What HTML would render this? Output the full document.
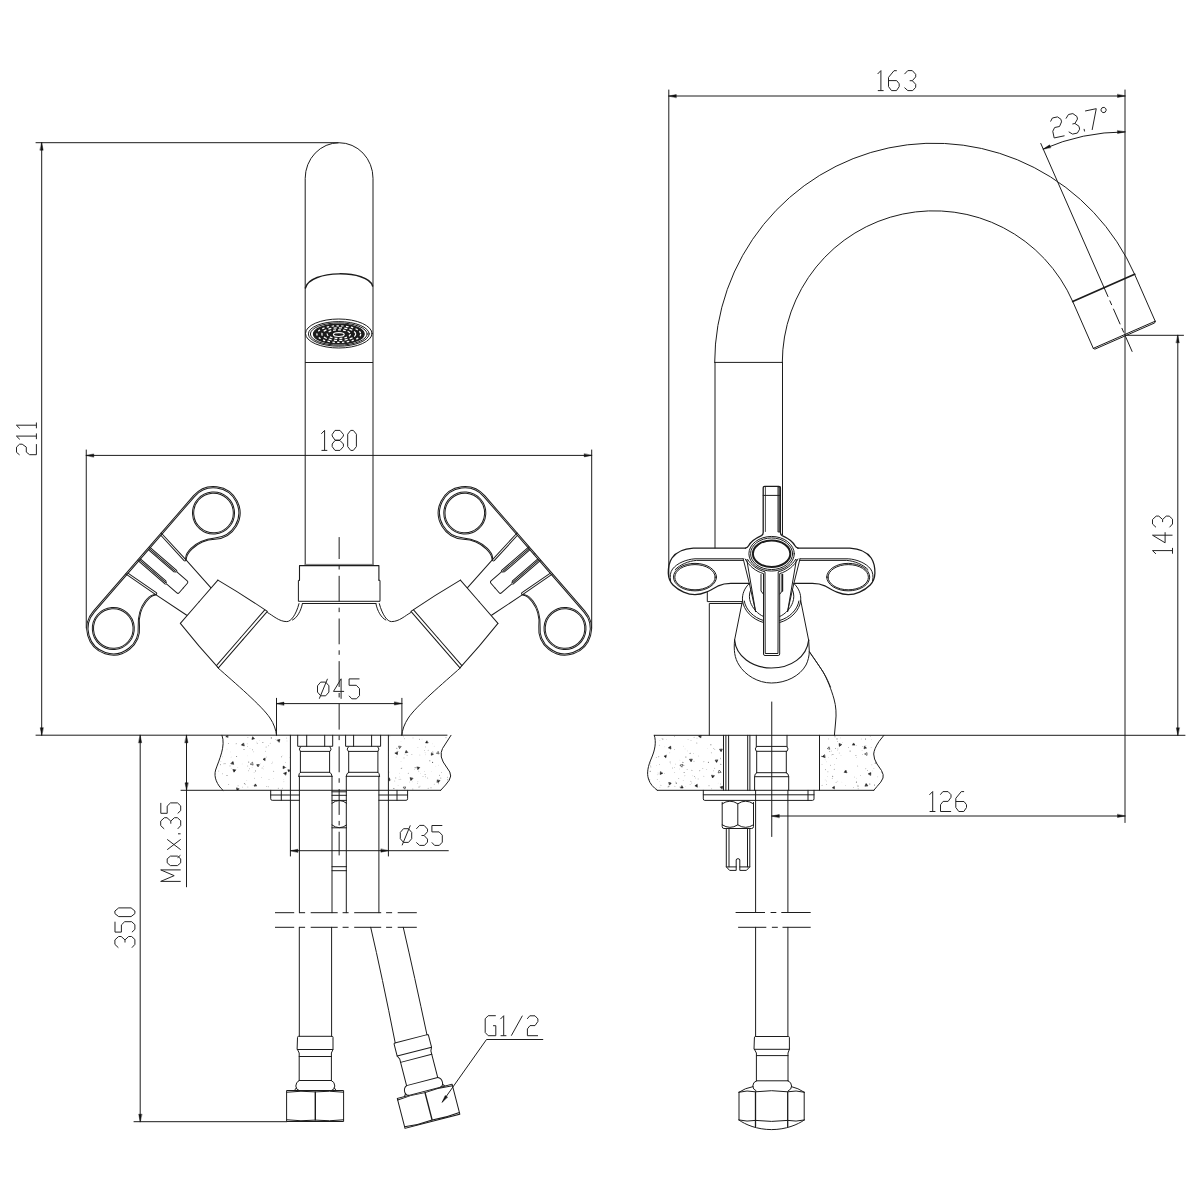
<!DOCTYPE html>
<html lang="en"><head><meta charset="utf-8"><title>Two-handle basin mixer - dimensional drawing</title>
<style>
html,body{margin:0;padding:0;background:#fff;font-family:"Liberation Sans",sans-serif;}
body{width:1200px;height:1200px;overflow:hidden;}
svg{display:block}
</style></head>
<body><svg width="1200" height="1200" viewBox="0 0 1200 1200" fill="none" stroke="#1c1c1c" stroke-linecap="round" stroke-linejoin="round" role="img" aria-label="Dimensional drawing of a two-handle basin mixer: front view (211, 180, ø45, ø35, Max.35, 350, G1/2) and side view (163, 23.7°, 143, 126)">
<desc>Front view dimensions: 211, 180, ø45, ø35, Max.35, 350, G1/2. Side view dimensions: 163, 23.7°, 143, 126.</desc>
<rect x="0" y="0" width="1200" height="1200" fill="#fff" stroke="none"/>
<path d="M36.00,142.70L338.00,142.70" stroke-width="1.0" />
<path d="M41.70,142.70L41.70,735.20" stroke-width="1.0" />
<path d="M41.70,142.70L43.20,150.20L40.20,150.20Z" fill="#111" stroke="#111" stroke-width="0.4"/>
<path d="M41.70,735.20L40.20,727.70L43.20,727.70Z" fill="#111" stroke="#111" stroke-width="0.4"/>
<g transform="translate(36.40,454.90) rotate(-90) scale(1.0)" stroke="#242424" stroke-width="1.00" stroke-linejoin="miter" stroke-linecap="butt">
<path transform="translate(0.00,0) scale(1.0,1.0) translate(0,-20)" vector-effect="non-scaling-stroke" d="M0,3.2L2.6,0.1L7.8,0.1L10.7,3.2L10.7,5.8L7.8,9.9L2.8,9.9L0.2,13.2L0.2,20L10.8,20"/>
<path transform="translate(15.50,0) scale(1.0,1.0) translate(0,-20)" vector-effect="non-scaling-stroke" d="M0,3.4L3.3,0L3.3,20M0.2,20L6.0,20"/>
<path transform="translate(26.40,0) scale(1.0,1.0) translate(0,-20)" vector-effect="non-scaling-stroke" d="M0,3.4L3.3,0L3.3,20M0.2,20L6.0,20"/>
</g>
<path d="M36.00,735.20L447.00,735.20" stroke-width="1.0" />
<path d="M86.25,450.00L86.25,628.00" stroke-width="1.0" />
<path d="M591.70,450.00L591.70,628.00" stroke-width="1.0" />
<path d="M86.25,455.40L591.70,455.40" stroke-width="1.0" />
<path d="M86.25,455.40L93.75,453.90L93.75,456.90Z" fill="#111" stroke="#111" stroke-width="0.4"/>
<path d="M591.70,455.40L584.20,456.90L584.20,453.90Z" fill="#111" stroke="#111" stroke-width="0.4"/>
<g transform="translate(321.30,450.40) rotate(0) scale(1.0)" stroke="#242424" stroke-width="1.00" stroke-linejoin="miter" stroke-linecap="butt">
<path transform="translate(0.00,0) scale(1.0,1.0) translate(0,-20)" vector-effect="non-scaling-stroke" d="M0,3.4L3.3,0L3.3,20M0.2,20L6.0,20"/>
<path transform="translate(10.90,0) scale(1.0,1.0) translate(0,-20)" vector-effect="non-scaling-stroke" d="M2.8,0L7.8,0L11.2,4L11.2,5.6L7.8,9.7L2.8,9.7L0,5.6L0,4ZM2.8,10.1L7.8,10.1L11.2,13.6L11.2,16.2L7.8,20L2.8,20L0,16.2L0,13.6Z"/>
<path transform="translate(26.40,0) scale(1.0,1.0) translate(0,-20)" vector-effect="non-scaling-stroke" d="M3,0L5.6,0L8.7,3.8L8.7,16.2L5.6,20L3,20L0,16.2L0,3.8Z"/>
</g>
<path d="M305.2,565 L305.2,178.3 A33.9,35.6 0 0 1 373.0,178.3 L373.0,565" stroke-width="1.0" />
<path d="M305.4,288 C310,269.5 368,269.5 372.6,286" stroke-width="1.5" />
<path d="M305.50,362.50L372.60,362.50" stroke-width="1.0" />
<ellipse cx="338.80" cy="333.50" rx="33.30" ry="14.50" stroke-width="1.0" />
<ellipse cx="338.80" cy="333.90" rx="30.40" ry="12.30" stroke-width="1.0" />
<ellipse cx="338.80" cy="334.00" rx="28.40" ry="11.10" stroke-width="1.0" />
<ellipse cx="338.80" cy="334.00" rx="25.40" ry="9.90" stroke-width="1.2" fill="#1c1c1c"/>
<ellipse cx="338.80" cy="334.10" rx="21.90" ry="8.30" stroke-width="1.25" stroke="#fff" stroke-dasharray="2.4 2.4" stroke-linecap="butt"/>
<ellipse cx="338.80" cy="334.10" rx="16.90" ry="6.30" stroke-width="1.25" stroke="#fff" stroke-dasharray="3.0 2.2" stroke-linecap="butt"/>
<ellipse cx="338.80" cy="334.10" rx="11.60" ry="4.30" stroke-width="1.2" stroke="#fff" stroke-dasharray="2.8 2.0" stroke-linecap="butt"/>
<ellipse cx="338.80" cy="334.60" rx="5.40" ry="1.90" stroke-width="1.2" stroke="#fff"/>
<path d="M339.15,537.10L339.15,855.40" stroke-width="1.0" stroke-dasharray="25.8 6 4.5 6.35" stroke-dashoffset="3.9" stroke-linecap="butt"/>
<path d="M299.5,580.2 L299.5,565.6 L378.9,565.6 L378.9,580.2" stroke-width="1.1" />
<path d="M305.20,564.40L373.00,564.40" stroke-width="1.0" stroke="#777"/>
<path d="M299.5,580.2 L298.4,580.4 L298.4,601.3 L380.0,601.3 L380.0,580.4 L378.9,580.2" stroke-width="1.0" />
<path d="M302.50,603.50L375.90,603.50" stroke-width="1.0" />
<g transform="matrix(0.6553,-0.7554,0.7554,0.6553,163.4,570.75)">
<g transform="scale(1,1)">
<circle cx="76.45" cy="0" r="21.0"/><circle cx="76.45" cy="0" r="19.8"/>
<path d="M0,-26.40 L76.45,-26.40 A26.40,26.40 0 1 1 57.60,18.30 C52.00,12.30 44.00,8.00 35.00,7.40 S26.5,8.60 23.10,9.90" stroke-width="1.0" />
<path d="M0,-25.10 L76.45,-25.10 A25.10,25.10 0 1 1 58.53,17.40 C51.61,11.00 44.00,6.70 35.00,6.10 S26.5,7.30 23.36,9.12" stroke-width="1.0" />
<path d="M27.1,-26.4 L23.1,9.9 L18.3,46.8" stroke-width="1.0" />
<path d="M25.1,-25.2 L21.2,9.0 Q21.4,10.6 23.1,9.9" stroke-width="1.0" />
<path d="M8.9,-26.2 L8.9,9.8 L7.9,11.3 L7.9,24.7 Q7.9,26.3 6.3,26.3 L0,26.3" stroke-width="1.0" />
<path d="M7.45,-25.2 L7.45,9.4" stroke-width="1.0" />
<path d="M6.0,-25.2 L6.0,8.4 L7.45,10.4" stroke-width="1.0" />
<path d="M28.65,47.3 L0,47.3" stroke-width="1.0" />
<path d="M28.65,47.3 Q34,76 37.4,105.2 L0,105.2" stroke-width="1.0" />
<path d="M36.9,102.2 L0,102.2" stroke-width="1.0" />
</g>
<g transform="scale(-1,1)">
<circle cx="76.45" cy="0" r="21.0"/><circle cx="76.45" cy="0" r="19.8"/>
<path d="M0,-26.40 L76.45,-26.40 A26.40,26.40 0 1 1 57.60,18.30 C52.00,12.30 44.00,8.00 35.00,7.40 S26.5,8.60 23.10,9.90" stroke-width="1.0" />
<path d="M0,-25.10 L76.45,-25.10 A25.10,25.10 0 1 1 58.53,17.40 C51.61,11.00 44.00,6.70 35.00,6.10 S26.5,7.30 23.36,9.12" stroke-width="1.0" />
<path d="M27.1,-26.4 L23.1,9.9 L18.3,46.8" stroke-width="1.0" />
<path d="M25.1,-25.2 L21.2,9.0 Q21.4,10.6 23.1,9.9" stroke-width="1.0" />
<path d="M8.9,-26.2 L8.9,9.8 L7.9,11.3 L7.9,24.7 Q7.9,26.3 6.3,26.3 L0,26.3" stroke-width="1.0" />
<path d="M7.45,-25.2 L7.45,9.4" stroke-width="1.0" />
<path d="M6.0,-25.2 L6.0,8.4 L7.45,10.4" stroke-width="1.0" />
<path d="M28.65,47.3 L0,47.3" stroke-width="1.0" />
<path d="M28.65,47.3 Q34,76 37.4,105.2 L0,105.2" stroke-width="1.0" />
<path d="M36.9,102.2 L0,102.2" stroke-width="1.0" />
</g>
</g>
<path d="M267.6,612.6 C273,615.5 279,621.6 286.8,621.6 C291,621.6 296,615 299,603.6" stroke-width="1.0" />
<path d="M302.4,603.6 C301,611 297,618 292.5,620" stroke-width="1.0" />
<path d="M217.6,667.6 C235,683 262,706 270,718 C274,724 276,730 276.5,735.2" stroke-width="1.0" />
<g transform="translate(678.30,0) scale(-1,1)">
<g transform="matrix(0.6553,-0.7554,0.7554,0.6553,163.4,570.75)">
<g transform="scale(1,1)">
<circle cx="76.45" cy="0" r="21.0"/><circle cx="76.45" cy="0" r="19.8"/>
<path d="M0,-26.40 L76.45,-26.40 A26.40,26.40 0 1 1 57.60,18.30 C52.00,12.30 44.00,8.00 35.00,7.40 S26.5,8.60 23.10,9.90" stroke-width="1.0" />
<path d="M0,-25.10 L76.45,-25.10 A25.10,25.10 0 1 1 58.53,17.40 C51.61,11.00 44.00,6.70 35.00,6.10 S26.5,7.30 23.36,9.12" stroke-width="1.0" />
<path d="M27.1,-26.4 L23.1,9.9 L18.3,46.8" stroke-width="1.0" />
<path d="M25.1,-25.2 L21.2,9.0 Q21.4,10.6 23.1,9.9" stroke-width="1.0" />
<path d="M8.9,-26.2 L8.9,9.8 L7.9,11.3 L7.9,24.7 Q7.9,26.3 6.3,26.3 L0,26.3" stroke-width="1.0" />
<path d="M7.45,-25.2 L7.45,9.4" stroke-width="1.0" />
<path d="M6.0,-25.2 L6.0,8.4 L7.45,10.4" stroke-width="1.0" />
<path d="M28.65,47.3 L0,47.3" stroke-width="1.0" />
<path d="M28.65,47.3 Q34,76 37.4,105.2 L0,105.2" stroke-width="1.0" />
<path d="M36.9,102.2 L0,102.2" stroke-width="1.0" />
</g>
<g transform="scale(-1,1)">
<circle cx="76.45" cy="0" r="21.0"/><circle cx="76.45" cy="0" r="19.8"/>
<path d="M0,-26.40 L76.45,-26.40 A26.40,26.40 0 1 1 57.60,18.30 C52.00,12.30 44.00,8.00 35.00,7.40 S26.5,8.60 23.10,9.90" stroke-width="1.0" />
<path d="M0,-25.10 L76.45,-25.10 A25.10,25.10 0 1 1 58.53,17.40 C51.61,11.00 44.00,6.70 35.00,6.10 S26.5,7.30 23.36,9.12" stroke-width="1.0" />
<path d="M27.1,-26.4 L23.1,9.9 L18.3,46.8" stroke-width="1.0" />
<path d="M25.1,-25.2 L21.2,9.0 Q21.4,10.6 23.1,9.9" stroke-width="1.0" />
<path d="M8.9,-26.2 L8.9,9.8 L7.9,11.3 L7.9,24.7 Q7.9,26.3 6.3,26.3 L0,26.3" stroke-width="1.0" />
<path d="M7.45,-25.2 L7.45,9.4" stroke-width="1.0" />
<path d="M6.0,-25.2 L6.0,8.4 L7.45,10.4" stroke-width="1.0" />
<path d="M28.65,47.3 L0,47.3" stroke-width="1.0" />
<path d="M28.65,47.3 Q34,76 37.4,105.2 L0,105.2" stroke-width="1.0" />
<path d="M36.9,102.2 L0,102.2" stroke-width="1.0" />
</g>
</g>
<path d="M267.6,612.6 C273,615.5 279,621.6 286.8,621.6 C291,621.6 296,615 299,603.6" stroke-width="1.0" />
<path d="M302.4,603.6 C301,611 297,618 292.5,620" stroke-width="1.0" />
<path d="M217.6,667.6 C235,683 262,706 270,718 C274,724 276,730 276.5,735.2" stroke-width="1.0" />
</g>
<path d="M276.50,698.30L276.50,735.20" stroke-width="1.0" />
<path d="M401.90,698.30L401.90,735.20" stroke-width="1.0" />
<path d="M276.50,703.60L401.90,703.60" stroke-width="1.0" />
<path d="M276.50,703.60L284.00,702.10L284.00,705.10Z" fill="#111" stroke="#111" stroke-width="0.4"/>
<path d="M401.90,703.60L394.40,705.10L394.40,702.10Z" fill="#111" stroke="#111" stroke-width="0.4"/>
<g transform="translate(317.50,698.80) rotate(0) scale(1.0)" stroke="#242424" stroke-width="1.00" stroke-linejoin="miter" stroke-linecap="butt">
<path transform="translate(0.00,0) scale(1.0,1.0) translate(0,-20)" vector-effect="non-scaling-stroke" d="M3.2,3.3L8.2,3.3L11.4,7L11.4,13.3L8.2,17L3.2,17L0,13.3L0,7ZM1.8,19.9L10,0"/>
<path transform="translate(15.80,0) scale(1.0,1.0) translate(0,-20)" vector-effect="non-scaling-stroke" d="M7.8,0L0.2,12.6L10.8,12.6M7.8,0L7.8,20"/>
<path transform="translate(31.30,0) scale(1.0,1.0) translate(0,-20)" vector-effect="non-scaling-stroke" d="M10.7,0.1L0.3,0.1L0.3,6.5L7.5,6.5L10.7,9.8L10.7,16.8L7.7,20L3,20L0.2,17"/>
</g>
<clipPath id="cl11"><path d="M222,735.3 C226,746 219,760 215.6,770 C213.5,777 217,785 223,790.3 L290.4,790.3 L290.4,735.3 Z"/></clipPath>
<g clip-path="url(#cl11)" stroke="none">
<circle cx="247.7" cy="766.0" r="0.5" fill="#aaa"/>
<circle cx="252.1" cy="767.4" r="0.4" fill="#bbb"/>
<circle cx="249.6" cy="768.8" r="0.4" fill="#555"/>
<circle cx="247.3" cy="743.8" r="0.55" fill="#ccc"/>
<circle cx="262.1" cy="767.9" r="0.5" fill="#aaa"/>
<circle cx="263.7" cy="768.9" r="0.4" fill="#bbb"/>
<circle cx="213.2" cy="764.3" r="0.35" fill="#555"/>
<circle cx="227.0" cy="749.1" r="0.35" fill="#aaa"/>
<circle cx="237.8" cy="767.6" r="0.4" fill="#bbb"/>
<circle cx="230.5" cy="751.9" r="0.35" fill="#ccc"/>
<circle cx="218.7" cy="771.0" r="0.5" fill="#bbb"/>
<circle cx="290.7" cy="780.8" r="0.45" fill="#999"/>
<circle cx="271.9" cy="763.5" r="0.35" fill="#555"/>
<circle cx="256.5" cy="742.0" r="0.35" fill="#999"/>
<circle cx="242.5" cy="787.1" r="0.35" fill="#777"/>
<circle cx="228.6" cy="784.5" r="0.5" fill="#aaa"/>
<circle cx="289.4" cy="757.4" r="0.35" fill="#bbb"/>
<circle cx="261.7" cy="777.6" r="0.45" fill="#999"/>
<circle cx="218.9" cy="753.9" r="0.5" fill="#555"/>
<circle cx="222.6" cy="773.8" r="0.35" fill="#555"/>
<circle cx="248.7" cy="762.1" r="0.55" fill="#777"/>
<circle cx="247.3" cy="746.4" r="0.4" fill="#aaa"/>
<circle cx="262.9" cy="742.5" r="0.5" fill="#777"/>
<circle cx="212.0" cy="782.1" r="0.55" fill="#999"/>
<circle cx="290.8" cy="737.3" r="0.4" fill="#aaa"/>
<circle cx="290.7" cy="768.2" r="0.55" fill="#555"/>
<circle cx="215.3" cy="744.1" r="0.5" fill="#999"/>
<circle cx="212.8" cy="768.6" r="0.45" fill="#aaa"/>
<circle cx="217.8" cy="741.1" r="0.55" fill="#ccc"/>
<circle cx="231.2" cy="768.2" r="0.45" fill="#bbb"/>
<circle cx="247.8" cy="787.1" r="0.5" fill="#bbb"/>
<circle cx="222.7" cy="756.8" r="0.4" fill="#999"/>
<circle cx="283.8" cy="779.6" r="0.4" fill="#ccc"/>
<circle cx="227.0" cy="775.5" r="0.55" fill="#777"/>
<circle cx="266.3" cy="756.9" r="0.5" fill="#bbb"/>
<circle cx="218.2" cy="738.8" r="0.35" fill="#555"/>
<circle cx="252.5" cy="749.8" r="0.5" fill="#999"/>
<circle cx="245.2" cy="784.3" r="0.5" fill="#999"/>
<circle cx="253.1" cy="785.5" r="0.35" fill="#777"/>
<circle cx="230.0" cy="765.9" r="0.55" fill="#bbb"/>
<circle cx="217.9" cy="747.6" r="0.4" fill="#ccc"/>
<circle cx="213.3" cy="750.6" r="0.5" fill="#777"/>
<circle cx="216.8" cy="745.6" r="0.45" fill="#bbb"/>
<circle cx="257.2" cy="743.3" r="0.45" fill="#777"/>
<circle cx="282.4" cy="788.3" r="0.55" fill="#bbb"/>
<circle cx="286.8" cy="767.6" r="0.35" fill="#aaa"/>
<circle cx="283.9" cy="773.5" r="0.35" fill="#555"/>
<circle cx="259.3" cy="740.3" r="0.35" fill="#ccc"/>
<circle cx="236.6" cy="743.5" r="0.35" fill="#555"/>
<circle cx="247.8" cy="755.8" r="0.35" fill="#ccc"/>
<circle cx="270.2" cy="743.2" r="0.45" fill="#999"/>
<circle cx="218.7" cy="761.4" r="0.35" fill="#aaa"/>
<circle cx="286.6" cy="737.9" r="0.5" fill="#bbb"/>
<circle cx="213.1" cy="771.4" r="0.5" fill="#bbb"/>
<circle cx="213.0" cy="740.1" r="0.35" fill="#ccc"/>
<circle cx="221.1" cy="749.9" r="0.5" fill="#ccc"/>
<circle cx="238.1" cy="785.8" r="0.55" fill="#aaa"/>
<circle cx="246.8" cy="780.7" r="0.35" fill="#bbb"/>
<circle cx="271.3" cy="737.9" r="0.55" fill="#555"/>
<circle cx="250.0" cy="748.5" r="0.35" fill="#aaa"/>
<circle cx="273.6" cy="771.3" r="0.5" fill="#999"/>
<circle cx="282.8" cy="755.8" r="0.4" fill="#ccc"/>
<circle cx="260.3" cy="763.8" r="0.45" fill="#ccc"/>
<circle cx="285.5" cy="762.7" r="0.4" fill="#999"/>
<circle cx="244.0" cy="749.6" r="0.5" fill="#777"/>
<circle cx="281.5" cy="756.7" r="0.55" fill="#999"/>
<circle cx="228.6" cy="743.4" r="0.45" fill="#555"/>
<circle cx="268.2" cy="786.7" r="0.45" fill="#777"/>
<circle cx="220.9" cy="761.3" r="0.4" fill="#aaa"/>
<circle cx="242.2" cy="763.9" r="0.45" fill="#ccc"/>
<circle cx="278.3" cy="788.3" r="0.5" fill="#999"/>
<circle cx="217.9" cy="738.0" r="0.55" fill="#555"/>
<circle cx="265.6" cy="751.2" r="0.45" fill="#999"/>
<circle cx="263.3" cy="766.2" r="0.4" fill="#aaa"/>
<circle cx="247.9" cy="737.6" r="0.45" fill="#777"/>
<circle cx="273.6" cy="778.5" r="0.35" fill="#aaa"/>
<circle cx="220.6" cy="764.7" r="0.45" fill="#555"/>
<circle cx="266.1" cy="746.9" r="0.5" fill="#999"/>
<circle cx="226.1" cy="736.9" r="0.5" fill="#bbb"/>
<circle cx="268.4" cy="745.8" r="0.45" fill="#999"/>
<circle cx="254.6" cy="786.5" r="0.55" fill="#bbb"/>
<circle cx="290.7" cy="744.7" r="0.4" fill="#555"/>
<circle cx="244.4" cy="783.6" r="0.5" fill="#777"/>
<circle cx="247.6" cy="746.7" r="0.35" fill="#aaa"/>
<circle cx="255.5" cy="770.9" r="0.55" fill="#999"/>
<circle cx="248.6" cy="770.8" r="0.4" fill="#555"/>
<circle cx="269.0" cy="779.7" r="0.35" fill="#777"/>
<circle cx="231.1" cy="757.0" r="0.35" fill="#999"/>
<circle cx="254.4" cy="778.2" r="0.45" fill="#999"/>
<circle cx="283.9" cy="781.7" r="0.45" fill="#bbb"/>
<circle cx="218.5" cy="759.7" r="0.55" fill="#aaa"/>
<circle cx="272.7" cy="762.1" r="0.35" fill="#777"/>
<circle cx="275.9" cy="739.7" r="0.35" fill="#777"/>
<circle cx="254.1" cy="772.7" r="0.4" fill="#aaa"/>
<circle cx="223.7" cy="763.7" r="0.55" fill="#ccc"/>
<circle cx="266.5" cy="786.4" r="0.5" fill="#bbb"/>
<circle cx="287.0" cy="740.9" r="0.4" fill="#aaa"/>
<circle cx="253.6" cy="751.7" r="0.55" fill="#ccc"/>
<circle cx="225.0" cy="763.6" r="0.55" fill="#999"/>
<circle cx="236.6" cy="756.5" r="0.55" fill="#777"/>
<circle cx="236.1" cy="743.8" r="0.55" fill="#bbb"/>
<circle cx="233.6" cy="762.7" r="0.5" fill="#bbb"/>
<circle cx="221.0" cy="736.6" r="0.5" fill="#555"/>
<polygon points="254.2,738.8 251.9,739.4 252.6,737.1" fill="#1a1a1a" stroke="#1a1a1a" stroke-width="0.6"/>
<polygon points="277.3,740.1 279.9,739.4 279.2,742.0" fill="#1a1a1a" stroke="#1a1a1a" stroke-width="0.6"/>
<polygon points="244.0,745.8 241.4,745.1 243.3,743.2" fill="#1a1a1a" stroke="#1a1a1a" stroke-width="0.6"/>
<polygon points="264.8,760.4 263.0,759.3 264.8,758.2" fill="#1a1a1a" stroke="#1a1a1a" stroke-width="0.6"/>
<polygon points="231.0,763.4 232.9,761.5 233.6,764.1" fill="#1a1a1a" stroke="#1a1a1a" stroke-width="0.6"/>
<polygon points="252.6,762.6 253.1,765.1 250.6,764.3" fill="none" stroke="#1a1a1a" stroke-width="0.6"/>
<polygon points="257.9,766.6 256.7,764.7 259.0,764.6" fill="#1a1a1a" stroke="#1a1a1a" stroke-width="0.6"/>
<polygon points="283.1,768.4 283.2,766.0 285.2,767.3" fill="#1a1a1a" stroke="#1a1a1a" stroke-width="0.6"/>
<polygon points="235.6,770.1 234.0,772.2 233.0,769.8" fill="#1a1a1a" stroke="#1a1a1a" stroke-width="0.6"/>
<polygon points="283.9,773.2 286.4,772.2 285.9,774.8" fill="#1a1a1a" stroke="#1a1a1a" stroke-width="0.6"/>
<polygon points="254.3,785.7 255.4,783.9 256.5,785.7" fill="#1a1a1a" stroke="#1a1a1a" stroke-width="0.6"/>
<polygon points="288.7,771.7 287.8,769.8 289.9,770.0" fill="#1a1a1a" stroke="#1a1a1a" stroke-width="0.6"/>
<polygon points="238.9,789.1 237.0,790.6 236.6,788.2" fill="#1a1a1a" stroke="#1a1a1a" stroke-width="0.6"/>
<polygon points="227.7,737.3 225.8,736.4 227.5,735.2" fill="#1a1a1a" stroke="#1a1a1a" stroke-width="0.6"/>
</g>
<path d="M222,735.3 C226,746 219,760 215.6,770 C213.5,777 217,785 223,790.3" stroke-width="1.0" />
<clipPath id="cl12"><path d="M451,735.3 L442.5,748.5 Q440.6,752 441.3,757 Q442.5,762 446.5,767 Q451,772.5 450.7,776 Q450.3,780 445.5,785 L440.7,790.3 L388.4,790.3 L388.4,735.3 Z"/></clipPath>
<g clip-path="url(#cl12)" stroke="none">
<circle cx="418.8" cy="771.1" r="0.45" fill="#777"/>
<circle cx="412.8" cy="789.1" r="0.5" fill="#999"/>
<circle cx="429.8" cy="760.7" r="0.55" fill="#777"/>
<circle cx="424.3" cy="771.4" r="0.4" fill="#aaa"/>
<circle cx="411.9" cy="754.3" r="0.4" fill="#555"/>
<circle cx="425.5" cy="746.9" r="0.55" fill="#ccc"/>
<circle cx="441.3" cy="772.4" r="0.35" fill="#555"/>
<circle cx="447.7" cy="779.7" r="0.55" fill="#777"/>
<circle cx="393.9" cy="788.6" r="0.5" fill="#555"/>
<circle cx="431.0" cy="787.8" r="0.55" fill="#999"/>
<circle cx="445.3" cy="765.9" r="0.35" fill="#bbb"/>
<circle cx="399.1" cy="779.5" r="0.5" fill="#bbb"/>
<circle cx="415.2" cy="767.9" r="0.5" fill="#bbb"/>
<circle cx="413.0" cy="737.9" r="0.35" fill="#777"/>
<circle cx="451.5" cy="771.5" r="0.45" fill="#999"/>
<circle cx="444.3" cy="756.7" r="0.45" fill="#555"/>
<circle cx="404.4" cy="754.1" r="0.45" fill="#bbb"/>
<circle cx="425.3" cy="776.8" r="0.4" fill="#555"/>
<circle cx="412.8" cy="781.8" r="0.35" fill="#bbb"/>
<circle cx="389.7" cy="772.1" r="0.35" fill="#aaa"/>
<circle cx="401.3" cy="768.5" r="0.55" fill="#777"/>
<circle cx="399.6" cy="773.2" r="0.35" fill="#aaa"/>
<circle cx="406.0" cy="754.5" r="0.35" fill="#bbb"/>
<circle cx="417.9" cy="747.4" r="0.45" fill="#aaa"/>
<circle cx="419.0" cy="787.1" r="0.5" fill="#777"/>
<circle cx="450.1" cy="745.2" r="0.55" fill="#999"/>
<circle cx="399.8" cy="776.9" r="0.4" fill="#bbb"/>
<circle cx="388.4" cy="750.5" r="0.45" fill="#777"/>
<circle cx="403.7" cy="736.8" r="0.35" fill="#777"/>
<circle cx="428.2" cy="788.4" r="0.55" fill="#bbb"/>
<circle cx="398.1" cy="785.5" r="0.45" fill="#ccc"/>
<circle cx="395.7" cy="777.9" r="0.55" fill="#aaa"/>
<circle cx="419.8" cy="755.0" r="0.5" fill="#ccc"/>
<circle cx="398.5" cy="751.7" r="0.35" fill="#999"/>
<circle cx="409.5" cy="782.0" r="0.5" fill="#ccc"/>
<circle cx="439.5" cy="775.2" r="0.55" fill="#999"/>
<circle cx="389.9" cy="736.5" r="0.35" fill="#777"/>
<circle cx="424.3" cy="750.4" r="0.4" fill="#777"/>
<circle cx="401.0" cy="761.3" r="0.35" fill="#bbb"/>
<circle cx="425.1" cy="774.4" r="0.45" fill="#555"/>
<circle cx="415.1" cy="767.5" r="0.5" fill="#777"/>
<circle cx="425.7" cy="754.7" r="0.45" fill="#ccc"/>
<circle cx="435.8" cy="766.2" r="0.35" fill="#ccc"/>
<circle cx="434.2" cy="784.2" r="0.35" fill="#555"/>
<circle cx="447.2" cy="764.7" r="0.5" fill="#555"/>
<circle cx="434.2" cy="746.3" r="0.45" fill="#ccc"/>
<circle cx="432.6" cy="762.4" r="0.55" fill="#555"/>
<circle cx="401.8" cy="768.0" r="0.5" fill="#bbb"/>
<circle cx="404.0" cy="757.9" r="0.45" fill="#555"/>
<circle cx="432.5" cy="743.8" r="0.35" fill="#ccc"/>
<circle cx="408.3" cy="773.2" r="0.5" fill="#999"/>
<circle cx="399.4" cy="747.4" r="0.55" fill="#aaa"/>
<circle cx="419.5" cy="739.3" r="0.55" fill="#999"/>
<circle cx="417.7" cy="783.2" r="0.35" fill="#777"/>
<circle cx="388.5" cy="755.4" r="0.45" fill="#777"/>
<circle cx="432.8" cy="752.0" r="0.55" fill="#777"/>
<circle cx="420.6" cy="773.3" r="0.4" fill="#bbb"/>
<circle cx="418.2" cy="768.4" r="0.4" fill="#aaa"/>
<circle cx="417.9" cy="781.6" r="0.4" fill="#aaa"/>
<circle cx="423.0" cy="776.6" r="0.5" fill="#bbb"/>
<circle cx="431.8" cy="771.5" r="0.35" fill="#bbb"/>
<circle cx="425.1" cy="752.8" r="0.35" fill="#999"/>
<circle cx="438.4" cy="783.8" r="0.45" fill="#777"/>
<circle cx="396.8" cy="748.3" r="0.55" fill="#777"/>
<circle cx="404.4" cy="738.7" r="0.45" fill="#999"/>
<circle cx="414.6" cy="769.6" r="0.45" fill="#aaa"/>
<circle cx="440.8" cy="778.1" r="0.55" fill="#999"/>
<circle cx="397.6" cy="750.0" r="0.35" fill="#ccc"/>
<circle cx="427.6" cy="777.9" r="0.5" fill="#aaa"/>
<circle cx="428.2" cy="750.2" r="0.5" fill="#aaa"/>
<circle cx="420.0" cy="786.1" r="0.4" fill="#777"/>
<circle cx="439.3" cy="780.6" r="0.35" fill="#999"/>
<circle cx="422.0" cy="739.1" r="0.45" fill="#ccc"/>
<circle cx="447.5" cy="777.2" r="0.45" fill="#777"/>
<circle cx="436.7" cy="781.9" r="0.55" fill="#999"/>
<circle cx="390.8" cy="779.2" r="0.4" fill="#777"/>
<circle cx="400.8" cy="779.2" r="0.4" fill="#777"/>
<circle cx="438.3" cy="765.2" r="0.35" fill="#bbb"/>
<circle cx="447.2" cy="755.6" r="0.5" fill="#bbb"/>
<circle cx="401.0" cy="741.5" r="0.35" fill="#ccc"/>
<circle cx="396.2" cy="757.1" r="0.5" fill="#ccc"/>
<circle cx="407.1" cy="755.2" r="0.5" fill="#aaa"/>
<circle cx="446.0" cy="737.8" r="0.45" fill="#555"/>
<circle cx="448.1" cy="762.4" r="0.45" fill="#ccc"/>
<circle cx="394.7" cy="781.0" r="0.5" fill="#bbb"/>
<polygon points="399.0,746.2 401.2,746.5 399.8,748.3" fill="none" stroke="#1a1a1a" stroke-width="0.6"/>
<polygon points="397.5,752.1 397.4,754.6 395.2,753.3" fill="#1a1a1a" stroke="#1a1a1a" stroke-width="0.6"/>
<polygon points="407.5,752.5 405.3,752.8 406.1,750.8" fill="#1a1a1a" stroke="#1a1a1a" stroke-width="0.6"/>
<polygon points="427.8,742.9 425.6,742.9 426.7,741.1" fill="#1a1a1a" stroke="#1a1a1a" stroke-width="0.6"/>
<polygon points="433.2,754.4 431.3,755.3 431.4,753.2" fill="#1a1a1a" stroke="#1a1a1a" stroke-width="0.6"/>
<polygon points="438.7,753.8 436.5,753.4 437.9,751.7" fill="none" stroke="#1a1a1a" stroke-width="0.6"/>
<polygon points="417.2,767.0 419.7,767.5 418.0,769.4" fill="#1a1a1a" stroke="#1a1a1a" stroke-width="0.6"/>
<polygon points="412.8,778.6 410.9,780.5 410.2,777.9" fill="#1a1a1a" stroke="#1a1a1a" stroke-width="0.6"/>
<polygon points="439.7,780.8 438.0,782.7 437.2,780.3" fill="#1a1a1a" stroke="#1a1a1a" stroke-width="0.6"/>
<polygon points="404.5,788.9 403.2,787.2 405.3,787.0" fill="none" stroke="#1a1a1a" stroke-width="0.6"/>
<polygon points="387.4,779.5 389.4,777.9 389.9,780.5" fill="#1a1a1a" stroke="#1a1a1a" stroke-width="0.6"/>
</g>
<path d="M451,735.3 L442.5,748.5 Q440.6,752 441.3,757 Q442.5,762 446.5,767 Q451,772.5 450.7,776 Q450.3,780 445.5,785 L440.7,790.3" stroke-width="1.0" />
<path d="M181.00,790.30L440.70,790.30" stroke-width="1.0" />
<path d="M290.40,735.30L290.40,856.00" stroke-width="1.0" />
<path d="M388.40,735.30L388.40,856.00" stroke-width="1.0" />
<path d="M290.40,850.70L448.30,850.70" stroke-width="1.0" />
<path d="M290.40,850.70L297.90,849.20L297.90,852.20Z" fill="#111" stroke="#111" stroke-width="0.4"/>
<path d="M388.40,850.70L380.90,852.20L380.90,849.20Z" fill="#111" stroke="#111" stroke-width="0.4"/>
<g transform="translate(400.30,845.40) rotate(0) scale(1.0)" stroke="#242424" stroke-width="1.00" stroke-linejoin="miter" stroke-linecap="butt">
<path transform="translate(0.00,0) scale(1.0,1.0) translate(0,-20)" vector-effect="non-scaling-stroke" d="M3.2,3.3L8.2,3.3L11.4,7L11.4,13.3L8.2,17L3.2,17L0,13.3L0,7ZM1.8,19.9L10,0"/>
<path transform="translate(15.80,0) scale(1.0,1.0) translate(0,-20)" vector-effect="non-scaling-stroke" d="M0.2,3.5L3.5,0L8,0L11.4,3.7L11.4,6.3L8,10.1L5.4,10.1M8,10.1L11.4,13.7L11.4,16.7L8.4,20L3.5,20L0.2,17"/>
<path transform="translate(31.30,0) scale(1.0,1.0) translate(0,-20)" vector-effect="non-scaling-stroke" d="M10.7,0.1L0.3,0.1L0.3,6.5L7.5,6.5L10.7,9.8L10.7,16.8L7.7,20L3,20L0.2,17"/>
</g>
<path d="M297.7,735.3 L297.7,746.3 L332.7,746.3 L332.7,735.3" stroke-width="1.0" />
<path d="M306.70,735.30L306.70,746.30" stroke-width="1.0" />
<path d="M324.70,735.30L324.70,746.30" stroke-width="1.0" />
<path d="M300.4,746.9 Q298.2,749.2 300.4,751.4 L330,751.4 Q332.4,749.2 330,746.9" stroke-width="1.0" />
<path d="M300.40,751.40L300.40,772.30" stroke-width="1.0" />
<path d="M329.60,751.40L329.60,772.30" stroke-width="1.0" />
<path d="M300.40,772.30L329.60,772.30" stroke-width="1.0" />
<path d="M300.4,772.3 Q298.7,773 298.7,776.3 M329.6,772.3 Q332,773 332,776.3" stroke-width="1.0" />
<path d="M298.70,776.30L332.00,776.30" stroke-width="1.0" />
<path d="M299.40,776.30L299.40,912.70" stroke-width="1.0" />
<path d="M332.00,776.30L332.00,912.70" stroke-width="1.0" />
<g transform="translate(678.30,0) scale(-1,1)">
<path d="M297.7,735.3 L297.7,746.3 L332.7,746.3 L332.7,735.3" stroke-width="1.0" />
<path d="M306.70,735.30L306.70,746.30" stroke-width="1.0" />
<path d="M324.70,735.30L324.70,746.30" stroke-width="1.0" />
<path d="M300.4,746.9 Q298.2,749.2 300.4,751.4 L330,751.4 Q332.4,749.2 330,746.9" stroke-width="1.0" />
<path d="M300.40,751.40L300.40,772.30" stroke-width="1.0" />
<path d="M329.60,751.40L329.60,772.30" stroke-width="1.0" />
<path d="M300.40,772.30L329.60,772.30" stroke-width="1.0" />
<path d="M300.4,772.3 Q298.7,773 298.7,776.3 M329.6,772.3 Q332,773 332,776.3" stroke-width="1.0" />
<path d="M298.70,776.30L332.00,776.30" stroke-width="1.0" />
<path d="M299.40,776.30L299.40,912.70" stroke-width="1.0" />
<path d="M332.00,776.30L332.00,912.70" stroke-width="1.0" />
</g>
<path d="M299.4,800.3 L272.2,800.3 Q270.7,800.3 270.7,798.8 L270.7,790.3" stroke-width="1.0" />
<path d="M270.70,795.00L299.40,795.00" stroke-width="1.0" />
<path d="M281.30,790.30L281.30,800.30" stroke-width="1.0" />
<g transform="translate(678.30,0) scale(-1,1)">
<path d="M299.4,800.3 L272.2,800.3 Q270.7,800.3 270.7,798.8 L270.7,790.3" stroke-width="1.0" />
<path d="M270.70,795.00L299.40,795.00" stroke-width="1.0" />
<path d="M281.30,790.30L281.30,800.30" stroke-width="1.0" />
</g>
<path d="M332.00,791.80L346.60,791.80" stroke-width="1.0" />
<path d="M332.00,795.30L346.60,795.30" stroke-width="1.0" />
<path d="M332.00,800.40L346.60,800.40" stroke-width="1.0" />
<path d="M332.00,827.80L346.60,827.80" stroke-width="1.0" />
<path d="M332,803.2 Q339.3,797.6 346.6,803.2" stroke-width="1.0" />
<path d="M332,825 Q339.3,830.6 346.6,825" stroke-width="1.0" />
<path d="M332.00,866.70L346.60,866.70" stroke-width="1.0" />
<path d="M332.00,870.70L346.60,870.70" stroke-width="1.0" />
<path d="M275.00,912.70L416.80,912.70" stroke-width="1.0" stroke-dasharray="27 4.9 6 5.6" stroke-dashoffset="7.8" stroke-linecap="butt"/>
<path d="M275.00,927.30L416.80,927.30" stroke-width="1.0" stroke-dasharray="27 4.9 6 5.6" stroke-dashoffset="7.8" stroke-linecap="butt"/>
<path d="M299.30,927.30L299.30,1036.30" stroke-width="1.0" />
<path d="M331.60,927.30L331.60,1036.30" stroke-width="1.0" />
<path d="M297.5,1037.3 Q297.5,1036.3 298.5,1036.3 L332,1036.3 Q333,1036.3 333,1037.3 L333,1049.5 L297.5,1049.5 Z" stroke-width="1.0" />
<path d="M297.5,1049.5 L299.2,1053 L299.2,1080.5" stroke-width="1.0" />
<path d="M333,1049.5 L331.4,1053 L331.4,1080.5" stroke-width="1.0" />
<path d="M299.20,1056.50L331.40,1056.50" stroke-width="1.0" />
<path d="M299.20,1080.50L331.40,1080.50" stroke-width="1.0" />
<path d="M299.2,1080.5 Q295.8,1082 295.8,1086 Q295.8,1089.5 299,1090.5" stroke-width="1.0" />
<path d="M331.4,1080.5 Q334.8,1082 334.8,1086 Q334.8,1089.5 331.6,1090.5" stroke-width="1.0" />
<path d="M296.2,1088 L294.5,1090.5" stroke-width="1.0" />
<path d="M334.4,1088 L336.1,1090.5" stroke-width="1.0" />
<path d="M287,1090.5 L343.6,1090.5 L343.6,1121.5 L287,1121.5 Z" stroke-width="1.0" />
<path d="M287,1092.2 Q301,1090.4 315.3,1091.9 Q329.5,1090.4 343.6,1092.2" stroke-width="1.0" />
<path d="M287,1119.8 Q301,1121.6 315.3,1120.1 Q329.5,1121.6 343.6,1119.8" stroke-width="1.0" />
<path d="M315.30,1091.90L315.30,1120.10" stroke-width="1.4" />
<g transform="translate(95.80,2.50) rotate(-14.5,315.3,1036.3)">
<path d="M297.5,1037.3 Q297.5,1036.3 298.5,1036.3 L332,1036.3 Q333,1036.3 333,1037.3 L333,1049.5 L297.5,1049.5 Z" stroke-width="1.0" />
<path d="M297.5,1049.5 L299.2,1053 L299.2,1080.5" stroke-width="1.0" />
<path d="M333,1049.5 L331.4,1053 L331.4,1080.5" stroke-width="1.0" />
<path d="M299.20,1056.50L331.40,1056.50" stroke-width="1.0" />
<path d="M299.20,1080.50L331.40,1080.50" stroke-width="1.0" />
<path d="M299.2,1080.5 Q295.8,1082 295.8,1086 Q295.8,1089.5 299,1090.5" stroke-width="1.0" />
<path d="M331.4,1080.5 Q334.8,1082 334.8,1086 Q334.8,1089.5 331.6,1090.5" stroke-width="1.0" />
<path d="M296.2,1088 L294.5,1090.5" stroke-width="1.0" />
<path d="M334.4,1088 L336.1,1090.5" stroke-width="1.0" />
<path d="M287,1090.5 L343.6,1090.5 L343.6,1121.5 L287,1121.5 Z" stroke-width="1.0" />
<path d="M287,1092.2 Q301,1090.4 315.3,1091.9 Q329.5,1090.4 343.6,1092.2" stroke-width="1.0" />
<path d="M287,1119.8 Q301,1121.6 315.3,1120.1 Q329.5,1121.6 343.6,1119.8" stroke-width="1.0" />
<path d="M315.30,1091.90L315.30,1120.10" stroke-width="1.4" />
</g>
<path d="M370.7,927.3 Q382,976 395.2,1042.8" stroke-width="1.0" />
<path d="M403.25,927.3 Q414.5,976 427.0,1035.0" stroke-width="1.0" />
<path d="M186.50,735.30L186.50,886.80" stroke-width="1.0" />
<path d="M186.50,735.30L188.00,742.80L185.00,742.80Z" fill="#111" stroke="#111" stroke-width="0.4"/>
<path d="M186.50,790.30L185.00,782.80L188.00,782.80Z" fill="#111" stroke="#111" stroke-width="0.4"/>
<g transform="translate(180.70,881.40) rotate(-90) scale(1.0)" stroke="#242424" stroke-width="1.00" stroke-linejoin="miter" stroke-linecap="butt">
<path transform="translate(0.00,0) scale(1.0,1.0) translate(0,-20)" vector-effect="non-scaling-stroke" d="M0,20L0,0L5.75,13.5L11.5,0L11.5,20"/>
<path transform="translate(15.80,0) scale(1.0,1.0) translate(0,-20)" vector-effect="non-scaling-stroke" d="M2.75,6.5L6.75,6.5L9.5,9.75L9.5,16.75L6.75,20L2.75,20L0,16.75L0,9.75ZM7.9,16.8L10.3,19.7"/>
<path transform="translate(31.70,0) scale(1.0,1.0) translate(0,-20)" vector-effect="non-scaling-stroke" d="M0,6.5L10.3,20M10.3,6.5L0,20"/>
<path transform="translate(47.30,0) scale(1.0,1.0) translate(0,-20)" vector-effect="non-scaling-stroke" d="M0.3,17.3L0.3,19.9"/>
<path transform="translate(52.30,0) scale(1.0,1.0) translate(0,-20)" vector-effect="non-scaling-stroke" d="M0.2,3.5L3.5,0L8,0L11.4,3.7L11.4,6.3L8,10.1L5.4,10.1M8,10.1L11.4,13.7L11.4,16.7L8.4,20L3.5,20L0.2,17"/>
<path transform="translate(67.80,0) scale(1.0,1.0) translate(0,-20)" vector-effect="non-scaling-stroke" d="M10.7,0.1L0.3,0.1L0.3,6.5L7.5,6.5L10.7,9.8L10.7,16.8L7.7,20L3,20L0.2,17"/>
</g>
<path d="M140.20,735.30L140.20,1121.70" stroke-width="1.0" />
<path d="M140.20,735.30L141.70,742.80L138.70,742.80Z" fill="#111" stroke="#111" stroke-width="0.4"/>
<path d="M140.20,1121.70L138.70,1114.20L141.70,1114.20Z" fill="#111" stroke="#111" stroke-width="0.4"/>
<path d="M134.00,1121.70L286.70,1121.70" stroke-width="1.0" />
<g transform="translate(134.90,947.90) rotate(-90) scale(1.0)" stroke="#242424" stroke-width="1.00" stroke-linejoin="miter" stroke-linecap="butt">
<path transform="translate(0.00,0) scale(1.0,1.0) translate(0,-20)" vector-effect="non-scaling-stroke" d="M0.2,3.5L3.5,0L8,0L11.4,3.7L11.4,6.3L8,10.1L5.4,10.1M8,10.1L11.4,13.7L11.4,16.7L8.4,20L3.5,20L0.2,17"/>
<path transform="translate(15.50,0) scale(1.0,1.0) translate(0,-20)" vector-effect="non-scaling-stroke" d="M10.7,0.1L0.3,0.1L0.3,6.5L7.5,6.5L10.7,9.8L10.7,16.8L7.7,20L3,20L0.2,17"/>
<path transform="translate(31.30,0) scale(1.0,1.0) translate(0,-20)" vector-effect="non-scaling-stroke" d="M3,0L5.6,0L8.7,3.8L8.7,16.2L5.6,20L3,20L0,16.2L0,3.8Z"/>
</g>
<g transform="translate(485.20,1035.70) rotate(0) scale(1.0)" stroke="#242424" stroke-width="1.00" stroke-linejoin="miter" stroke-linecap="butt">
<path transform="translate(0.00,0) scale(1.0,1.0) translate(0,-20)" vector-effect="non-scaling-stroke" d="M10.6,0L3,0L0,3L0,16.8L3,20L10.6,20L10.6,10L7.85,10"/>
<path transform="translate(15.20,0) scale(1.0,1.0) translate(0,-20)" vector-effect="non-scaling-stroke" d="M0,3.4L3.3,0L3.3,20M0.2,20L6.0,20"/>
<path transform="translate(26.10,0) scale(1.0,1.0) translate(0,-20)" vector-effect="non-scaling-stroke" d="M0,20L11.1,0"/>
<path transform="translate(42.00,0) scale(1.0,1.0) translate(0,-20)" vector-effect="non-scaling-stroke" d="M0,3.2L2.6,0.1L7.8,0.1L10.7,3.2L10.7,5.8L7.8,9.9L2.8,9.9L0.2,13.2L0.2,20L10.8,20"/>
</g>
<path d="M542.8,1039.5 L486.5,1039.5 L442.3,1102" stroke-width="1.0" />
<path d="M442.30,1102.00L445.20,1095.48L447.48,1097.09Z" fill="#111" stroke="#111" stroke-width="0.4"/>
<path d="M668.80,90.00L668.80,576.50" stroke-width="1.0" />
<path d="M1125.00,90.00L1125.00,822.50" stroke-width="1.0" />
<path d="M668.80,96.00L1125.00,96.00" stroke-width="1.0" />
<path d="M668.80,96.00L676.30,94.50L676.30,97.50Z" fill="#111" stroke="#111" stroke-width="0.4"/>
<path d="M1125.00,96.00L1117.50,97.50L1117.50,94.50Z" fill="#111" stroke="#111" stroke-width="0.4"/>
<g transform="translate(877.60,90.60) rotate(0) scale(1.0)" stroke="#242424" stroke-width="1.00" stroke-linejoin="miter" stroke-linecap="butt">
<path transform="translate(0.00,0) scale(1.0,1.0) translate(0,-20)" vector-effect="non-scaling-stroke" d="M0,3.4L3.3,0L3.3,20M0.2,20L6.0,20"/>
<path transform="translate(10.90,0) scale(1.0,1.0) translate(0,-20)" vector-effect="non-scaling-stroke" d="M8.3,0.1L5.5,0.1L0,6.8L0,16L3,20L8,20L10.7,16L10.7,13.2L8.2,10L0,10"/>
<path transform="translate(26.70,0) scale(1.0,1.0) translate(0,-20)" vector-effect="non-scaling-stroke" d="M0.2,3.5L3.5,0L8,0L11.4,3.7L11.4,6.3L8,10.1L5.4,10.1M8,10.1L11.4,13.7L11.4,16.7L8.4,20L3.5,20L0.2,17"/>
</g>
<path d="M714.70,362.40 A219.20,219.20 0 0 1 1134.61,274.29" stroke-width="1.0" />
<path d="M782.30,362.40 A151.60,151.60 0 0 1 1072.71,301.46" stroke-width="1.0" />
<path d="M1134.61,274.29L1155.27,321.36" stroke-width="1.0" />
<path d="M1072.71,301.46L1093.37,348.53" stroke-width="1.0" />
<path d="M1072.71,301.46L1134.61,274.29" stroke-width="1.8" />
<path d="M1093.33,348.44 L1094.95,349.14 L1154.66,322.94 L1155.23,321.26" stroke-width="1.0" />
<path d="M1093.57,348.22L1154.92,321.29" stroke-width="1.0" />
<path d="M715.00,362.40L715.00,548.00" stroke-width="1.0" />
<path d="M782.50,362.40L782.50,534.60" stroke-width="1.0" />
<path d="M715.00,362.40L782.50,362.40" stroke-width="1.0" />
<path d="M1132.24,351.78L1104.10,287.69" stroke-width="1.0" stroke-dasharray="17 4 5 4" stroke-linecap="butt"/>
<path d="M1104.10,287.69L1040.79,143.47" stroke-width="1.0" />
<path d="M1043.24,149.05 A203.4,203.4 0 0 1 1125.00,131.90" stroke-width="1.0" />
<path d="M1043.24,149.05L1049.62,144.87L1050.70,147.45Z" fill="#111" stroke="#111" stroke-width="0.4"/>
<path d="M1125.00,131.90L1117.55,133.56L1117.46,130.76Z" fill="#111" stroke="#111" stroke-width="0.4"/>
<g transform="translate(1082.31,131.83) rotate(-11.85)">
<g transform="translate(-29.00,0.20) rotate(0) scale(1.0)" stroke="#242424" stroke-width="1.00" stroke-linejoin="miter" stroke-linecap="butt">
<path transform="translate(0.00,0) scale(1.0,1.0) translate(0,-20)" vector-effect="non-scaling-stroke" d="M0,3.2L2.6,0.1L7.8,0.1L10.7,3.2L10.7,5.8L7.8,9.9L2.8,9.9L0.2,13.2L0.2,20L10.8,20"/>
<path transform="translate(15.50,0) scale(1.0,1.0) translate(0,-20)" vector-effect="non-scaling-stroke" d="M0.2,3.5L3.5,0L8,0L11.4,3.7L11.4,6.3L8,10.1L5.4,10.1M8,10.1L11.4,13.7L11.4,16.7L8.4,20L3.5,20L0.2,17"/>
<path transform="translate(31.00,0) scale(1.0,1.0) translate(0,-20)" vector-effect="non-scaling-stroke" d="M0.3,17.3L0.3,19.9"/>
<path transform="translate(36.00,0) scale(1.0,1.0) translate(0,-20)" vector-effect="non-scaling-stroke" d="M0,0L11.4,0L3,20"/>
<path transform="translate(51.80,0) scale(1.0,1.0) translate(0,-20)" vector-effect="non-scaling-stroke" d="M1.4,0.3L3.6,0.3L5,2L5,3.6L3.6,5.3L1.4,5.3L0,3.6L0,2Z"/>
</g>
</g>
<path d="M1125.00,335.30L1183.50,335.30" stroke-width="1.0" />
<path d="M1177.80,335.30L1177.80,735.30" stroke-width="1.0" />
<path d="M1177.80,335.30L1179.30,342.80L1176.30,342.80Z" fill="#111" stroke="#111" stroke-width="0.4"/>
<path d="M1177.80,735.30L1176.30,727.80L1179.30,727.80Z" fill="#111" stroke="#111" stroke-width="0.4"/>
<g transform="translate(1172.50,553.90) rotate(-90) scale(1.0)" stroke="#242424" stroke-width="1.00" stroke-linejoin="miter" stroke-linecap="butt">
<path transform="translate(0.00,0) scale(1.0,1.0) translate(0,-20)" vector-effect="non-scaling-stroke" d="M0,3.4L3.3,0L3.3,20M0.2,20L6.0,20"/>
<path transform="translate(10.90,0) scale(1.0,1.0) translate(0,-20)" vector-effect="non-scaling-stroke" d="M7.8,0L0.2,12.6L10.8,12.6M7.8,0L7.8,20"/>
<path transform="translate(26.40,0) scale(1.0,1.0) translate(0,-20)" vector-effect="non-scaling-stroke" d="M0.2,3.5L3.5,0L8,0L11.4,3.7L11.4,6.3L8,10.1L5.4,10.1M8,10.1L11.4,13.7L11.4,16.7L8.4,20L3.5,20L0.2,17"/>
</g>
<path d="M654.30,735.30L1185.00,735.30" stroke-width="1.0" />
<path d="M771.80,816.00L1125.00,816.00" stroke-width="1.0" />
<path d="M771.80,816.00L779.30,814.50L779.30,817.50Z" fill="#111" stroke="#111" stroke-width="0.4"/>
<path d="M1125.00,816.00L1117.50,817.50L1117.50,814.50Z" fill="#111" stroke="#111" stroke-width="0.4"/>
<g transform="translate(929.40,811.50) rotate(0) scale(1.0)" stroke="#242424" stroke-width="1.00" stroke-linejoin="miter" stroke-linecap="butt">
<path transform="translate(0.00,0) scale(1.0,1.0) translate(0,-20)" vector-effect="non-scaling-stroke" d="M0,3.4L3.3,0L3.3,20M0.2,20L6.0,20"/>
<path transform="translate(10.90,0) scale(1.0,1.0) translate(0,-20)" vector-effect="non-scaling-stroke" d="M0,3.2L2.6,0.1L7.8,0.1L10.7,3.2L10.7,5.8L7.8,9.9L2.8,9.9L0.2,13.2L0.2,20L10.8,20"/>
<path transform="translate(26.40,0) scale(1.0,1.0) translate(0,-20)" vector-effect="non-scaling-stroke" d="M8.3,0.1L5.5,0.1L0,6.8L0,16L3,20L8,20L10.7,16L10.7,13.2L8.2,10L0,10"/>
</g>
<path d="M771.75,702.00L771.75,836.50" stroke-width="1.0" />
<ellipse cx="771.60" cy="553.75" rx="22.70" ry="17.30" stroke-width="1.0" />
<ellipse cx="771.60" cy="553.75" rx="21.00" ry="15.80" stroke-width="1.0" />
<ellipse cx="771.60" cy="553.75" rx="18.70" ry="13.30" stroke-width="2.0" />
<path d="M745.5,548.1 Q747.6,547.8 748.6,545.8 C751,541 757,537.6 761.4,535.6 Q763.2,534.7 763.2,532.5 L763.2,487.8 Q763.2,486.3 764.7,486.3 L778.9,486.3 Q780.4,486.3 780.4,487.8 L780.4,532.5 Q780.4,534.7 782.2,535.6 C786.6,537.6 792.6,541 795,545.8 Q796,547.8 798.1,548.1" stroke-width="1.3" />
<path d="M765.40,487.30L765.40,531.50" stroke-width="0.8" />
<path d="M778.3,487 L780.4,487 L780.4,532 L778.3,532 Z" stroke-width="0.8" fill="#555"/>
<path d="M763.20,495.40L780.40,495.40" stroke-width="1.0" />
<path d="M745.5,548.1 L693.3,548.1 C684,548.6 676,552.3 672,558 C669,562.5 668.2,568 668.3,573.3 C668.5,578.5 670,582 673,585 C679,591 688,594.6 695,594.6 C703,594.6 710,590.5 718.3,585.8 C722.5,583.8 726,583.3 730.8,583.3 L749.3,583.3" stroke-width="1.3" />
<path d="M743.2,558.8 L695,558.8 C686,559.4 677,563.3 672.6,569 C670.4,572 669.6,576 670.6,581" stroke-width="1.0" />
<path d="M743.6,560.4 L696.5,560.4 C688.5,561 680,564.6 675.2,569.6" stroke-width="1.0" />
<ellipse cx="695.00" cy="577.10" rx="21.50" ry="13.75" stroke-width="1.0" />
<ellipse cx="695.00" cy="577.20" rx="20.20" ry="12.60" stroke-width="1.0" />
<path d="M743.2,558.8 L749.3,583.3 L755.6,611.5" stroke-width="1.0" />
<path d="M746.8,559.8 L755.6,611.5" stroke-width="1.0" />
<path d="M745.2,559 C749,566 756,571.5 763.5,573.6 L763.5,654 Q763.5,655.5 765,655.5 L771.6,655.5" stroke-width="1.0" />
<path d="M747.6,559.4 C751,565 757.5,570 765,571.8 L765.2,653.5 L771.6,653.5" stroke-width="1.0" />
<path d="M761,574.5 L761,591 L763.3,594" stroke-width="1.0" />
<path d="M749.3,583.5 C744.5,588 742,594 742.5,600.5 C743.5,610 752,619.5 763.5,622.5" stroke-width="1.0" />
<path d="M744.3,601 C745.5,609.5 753.5,617.7 763.5,620.5" stroke-width="1.0" />
<path d="M750.6,590 C749,594 749,598.5 750.5,602.5 C752.5,608 757.5,614 763.5,616.5" stroke-width="1.0" />
<path d="M742.5,600.5 L734.6,640" stroke-width="1.0" />
<g transform="translate(1543.20,0) scale(-1,1)">
<path d="M745.5,548.1 L693.3,548.1 C684,548.6 676,552.3 672,558 C669,562.5 668.2,568 668.3,573.3 C668.5,578.5 670,582 673,585 C679,591 688,594.6 695,594.6 C703,594.6 710,590.5 718.3,585.8 C722.5,583.8 726,583.3 730.8,583.3 L749.3,583.3" stroke-width="1.3" />
<path d="M743.2,558.8 L695,558.8 C686,559.4 677,563.3 672.6,569 C670.4,572 669.6,576 670.6,581" stroke-width="1.0" />
<path d="M743.6,560.4 L696.5,560.4 C688.5,561 680,564.6 675.2,569.6" stroke-width="1.0" />
<ellipse cx="695.00" cy="577.10" rx="21.50" ry="13.75" stroke-width="1.0" />
<ellipse cx="695.00" cy="577.20" rx="20.20" ry="12.60" stroke-width="1.0" />
<path d="M743.2,558.8 L749.3,583.3 L755.6,611.5" stroke-width="1.0" />
<path d="M746.8,559.8 L755.6,611.5" stroke-width="1.0" />
<path d="M745.2,559 C749,566 756,571.5 763.5,573.6 L763.5,654 Q763.5,655.5 765,655.5 L771.6,655.5" stroke-width="1.0" />
<path d="M747.6,559.4 C751,565 757.5,570 765,571.8 L765.2,653.5 L771.6,653.5" stroke-width="1.0" />
<path d="M761,574.5 L761,591 L763.3,594" stroke-width="1.0" />
<path d="M749.3,583.5 C744.5,588 742,594 742.5,600.5 C743.5,610 752,619.5 763.5,622.5" stroke-width="1.0" />
<path d="M744.3,601 C745.5,609.5 753.5,617.7 763.5,620.5" stroke-width="1.0" />
<path d="M750.6,590 C749,594 749,598.5 750.5,602.5 C752.5,608 757.5,614 763.5,616.5" stroke-width="1.0" />
<path d="M742.5,600.5 L734.6,640" stroke-width="1.0" />
</g>
<path d="M782.40,574.50L782.40,591.00" stroke-width="1.6" />
<path d="M734.6,640 C736,656 752,668 771.4,668 C791,668 806.8,657 808.7,640" stroke-width="1.2" />
<path d="M734.6,640 C733.6,650 734.5,658 739,665 C745,675 758,683 771.4,683 C786,683 800,676 806,665 C808,661 809.3,656 809.3,651.5" stroke-width="1.0" />
<path d="M808.7,640 L809.3,651.5 C812,655.5 818,664 822.7,671.3 C827,678.5 831.5,690 834,699 C836,706 836.6,714 835.6,722 L834.4,735.3" stroke-width="1.0" />
<path d="M809.9,652.6 C812.6,656.6 818.6,665 823.3,672.3 C826,676.5 828.5,682 830.5,687" stroke-width="0.9" />
<path d="M707.3,592.5 L707.3,601.6 L741.8,601.6" stroke-width="1.0" />
<path d="M742,603.5 L709.3,603.5 L709.3,735.3" stroke-width="1.0" />
<clipPath id="cl21"><path d="M654.3,735.3 C656.5,742 655,750 651.5,758 C648,766 646.5,773 648.5,779 C650,784 653.5,787.5 657.3,790.3 L723.5,790.3 L723.5,735.3 Z"/></clipPath>
<g clip-path="url(#cl21)" stroke="none">
<circle cx="658.0" cy="772.9" r="0.45" fill="#aaa"/>
<circle cx="711.6" cy="788.8" r="0.5" fill="#bbb"/>
<circle cx="659.5" cy="764.3" r="0.35" fill="#555"/>
<circle cx="674.3" cy="767.3" r="0.35" fill="#777"/>
<circle cx="707.7" cy="748.6" r="0.4" fill="#ccc"/>
<circle cx="648.3" cy="789.2" r="0.5" fill="#bbb"/>
<circle cx="679.9" cy="787.0" r="0.55" fill="#aaa"/>
<circle cx="699.8" cy="770.7" r="0.45" fill="#555"/>
<circle cx="657.2" cy="779.6" r="0.35" fill="#555"/>
<circle cx="680.8" cy="765.6" r="0.45" fill="#aaa"/>
<circle cx="683.3" cy="746.2" r="0.35" fill="#aaa"/>
<circle cx="713.4" cy="748.7" r="0.4" fill="#777"/>
<circle cx="698.2" cy="778.9" r="0.55" fill="#ccc"/>
<circle cx="650.6" cy="766.0" r="0.55" fill="#aaa"/>
<circle cx="660.9" cy="785.2" r="0.55" fill="#aaa"/>
<circle cx="668.1" cy="786.9" r="0.55" fill="#aaa"/>
<circle cx="670.1" cy="762.0" r="0.45" fill="#555"/>
<circle cx="710.9" cy="744.7" r="0.5" fill="#555"/>
<circle cx="683.8" cy="765.5" r="0.55" fill="#777"/>
<circle cx="690.1" cy="753.2" r="0.55" fill="#555"/>
<circle cx="659.3" cy="745.3" r="0.45" fill="#999"/>
<circle cx="672.4" cy="768.0" r="0.45" fill="#777"/>
<circle cx="653.2" cy="739.8" r="0.4" fill="#aaa"/>
<circle cx="674.6" cy="772.5" r="0.55" fill="#ccc"/>
<circle cx="720.7" cy="757.9" r="0.4" fill="#ccc"/>
<circle cx="691.7" cy="783.1" r="0.5" fill="#bbb"/>
<circle cx="674.7" cy="749.4" r="0.4" fill="#777"/>
<circle cx="689.4" cy="759.6" r="0.5" fill="#ccc"/>
<circle cx="683.2" cy="780.7" r="0.35" fill="#999"/>
<circle cx="697.0" cy="738.1" r="0.4" fill="#777"/>
<circle cx="676.2" cy="782.4" r="0.4" fill="#777"/>
<circle cx="703.9" cy="761.7" r="0.45" fill="#777"/>
<circle cx="720.8" cy="764.2" r="0.5" fill="#555"/>
<circle cx="720.3" cy="784.0" r="0.45" fill="#777"/>
<circle cx="714.6" cy="768.2" r="0.5" fill="#aaa"/>
<circle cx="690.9" cy="781.3" r="0.45" fill="#777"/>
<circle cx="687.2" cy="750.9" r="0.35" fill="#aaa"/>
<circle cx="699.1" cy="786.9" r="0.35" fill="#999"/>
<circle cx="691.9" cy="770.4" r="0.55" fill="#aaa"/>
<circle cx="665.3" cy="757.8" r="0.4" fill="#777"/>
<circle cx="656.2" cy="757.3" r="0.4" fill="#555"/>
<circle cx="695.7" cy="778.0" r="0.35" fill="#555"/>
<circle cx="696.8" cy="743.0" r="0.55" fill="#999"/>
<circle cx="676.3" cy="783.4" r="0.55" fill="#777"/>
<circle cx="659.3" cy="781.7" r="0.4" fill="#ccc"/>
<circle cx="703.8" cy="776.4" r="0.55" fill="#ccc"/>
<circle cx="684.9" cy="775.8" r="0.35" fill="#555"/>
<circle cx="675.6" cy="782.1" r="0.5" fill="#bbb"/>
<circle cx="658.8" cy="774.0" r="0.45" fill="#ccc"/>
<circle cx="692.8" cy="775.8" r="0.4" fill="#aaa"/>
<circle cx="657.3" cy="774.8" r="0.45" fill="#bbb"/>
<circle cx="708.4" cy="762.3" r="0.55" fill="#555"/>
<circle cx="688.1" cy="739.5" r="0.55" fill="#ccc"/>
<circle cx="670.6" cy="763.7" r="0.45" fill="#ccc"/>
<circle cx="694.4" cy="776.5" r="0.4" fill="#555"/>
<circle cx="693.7" cy="753.6" r="0.4" fill="#999"/>
<circle cx="650.2" cy="771.2" r="0.5" fill="#555"/>
<circle cx="713.6" cy="770.8" r="0.5" fill="#bbb"/>
<circle cx="694.1" cy="737.3" r="0.5" fill="#aaa"/>
<circle cx="685.9" cy="756.9" r="0.5" fill="#555"/>
<circle cx="662.8" cy="738.9" r="0.5" fill="#555"/>
<circle cx="664.5" cy="773.6" r="0.5" fill="#ccc"/>
<circle cx="678.7" cy="778.6" r="0.5" fill="#aaa"/>
<circle cx="670.9" cy="748.4" r="0.35" fill="#555"/>
<circle cx="682.9" cy="762.4" r="0.55" fill="#777"/>
<circle cx="706.6" cy="769.5" r="0.55" fill="#ccc"/>
<circle cx="702.8" cy="768.4" r="0.45" fill="#777"/>
<circle cx="683.0" cy="762.7" r="0.45" fill="#bbb"/>
<circle cx="675.2" cy="764.1" r="0.35" fill="#777"/>
<circle cx="669.7" cy="752.8" r="0.5" fill="#ccc"/>
<circle cx="656.5" cy="765.6" r="0.35" fill="#bbb"/>
<circle cx="668.9" cy="786.3" r="0.5" fill="#555"/>
<circle cx="723.3" cy="745.1" r="0.5" fill="#777"/>
<circle cx="698.6" cy="756.0" r="0.55" fill="#ccc"/>
<circle cx="659.9" cy="740.6" r="0.35" fill="#999"/>
<circle cx="685.7" cy="786.4" r="0.4" fill="#ccc"/>
<circle cx="685.1" cy="748.9" r="0.45" fill="#ccc"/>
<circle cx="674.9" cy="786.2" r="0.5" fill="#aaa"/>
<circle cx="679.5" cy="769.0" r="0.45" fill="#ccc"/>
<circle cx="658.8" cy="756.7" r="0.45" fill="#555"/>
<circle cx="659.9" cy="787.2" r="0.35" fill="#999"/>
<circle cx="709.0" cy="785.8" r="0.45" fill="#555"/>
<circle cx="650.9" cy="767.0" r="0.5" fill="#bbb"/>
<circle cx="679.9" cy="760.1" r="0.35" fill="#bbb"/>
<circle cx="656.7" cy="787.9" r="0.4" fill="#aaa"/>
<circle cx="674.3" cy="736.5" r="0.4" fill="#777"/>
<circle cx="690.1" cy="784.6" r="0.5" fill="#bbb"/>
<circle cx="711.4" cy="752.7" r="0.5" fill="#aaa"/>
<circle cx="714.7" cy="749.2" r="0.55" fill="#bbb"/>
<circle cx="718.1" cy="783.1" r="0.35" fill="#ccc"/>
<circle cx="691.0" cy="740.6" r="0.4" fill="#777"/>
<circle cx="649.7" cy="779.5" r="0.55" fill="#bbb"/>
<circle cx="694.0" cy="761.3" r="0.45" fill="#777"/>
<circle cx="666.3" cy="755.0" r="0.45" fill="#ccc"/>
<circle cx="694.5" cy="783.5" r="0.35" fill="#ccc"/>
<circle cx="650.3" cy="763.4" r="0.4" fill="#999"/>
<circle cx="666.3" cy="739.4" r="0.35" fill="#bbb"/>
<circle cx="684.1" cy="772.4" r="0.5" fill="#777"/>
<circle cx="647.6" cy="748.6" r="0.45" fill="#bbb"/>
<circle cx="664.8" cy="746.8" r="0.4" fill="#ccc"/>
<circle cx="720.4" cy="758.7" r="0.45" fill="#777"/>
<circle cx="661.9" cy="738.4" r="0.45" fill="#bbb"/>
<circle cx="687.1" cy="769.6" r="0.4" fill="#555"/>
<polygon points="668.6,747.6 670.7,746.2 670.8,748.7" fill="#1a1a1a" stroke="#1a1a1a" stroke-width="0.6"/>
<polygon points="666.2,755.5 666.0,757.6 664.3,756.4" fill="#1a1a1a" stroke="#1a1a1a" stroke-width="0.6"/>
<polygon points="692.2,759.5 691.1,761.8 689.7,759.6" fill="#1a1a1a" stroke="#1a1a1a" stroke-width="0.6"/>
<polygon points="681.6,766.9 679.9,765.1 682.4,764.5" fill="none" stroke="#1a1a1a" stroke-width="0.6"/>
<polygon points="722.2,749.4 721.1,751.7 719.7,749.6" fill="#1a1a1a" stroke="#1a1a1a" stroke-width="0.6"/>
<polygon points="717.7,760.2 716.6,762.4 715.3,760.4" fill="#1a1a1a" stroke="#1a1a1a" stroke-width="0.6"/>
<polygon points="718.3,772.5 719.2,770.0 720.9,772.0" fill="none" stroke="#1a1a1a" stroke-width="0.6"/>
<polygon points="714.2,775.9 712.6,778.0 711.6,775.6" fill="#1a1a1a" stroke="#1a1a1a" stroke-width="0.6"/>
<polygon points="662.5,773.4 660.2,774.5 660.4,772.0" fill="#1a1a1a" stroke="#1a1a1a" stroke-width="0.6"/>
<polygon points="669.0,782.6 671.2,783.1 669.8,784.8" fill="#1a1a1a" stroke="#1a1a1a" stroke-width="0.6"/>
<polygon points="682.0,785.9 683.2,788.0 680.8,788.0" fill="#1a1a1a" stroke="#1a1a1a" stroke-width="0.6"/>
<polygon points="697.1,787.0 694.9,785.8 697.0,784.5" fill="#1a1a1a" stroke="#1a1a1a" stroke-width="0.6"/>
<polygon points="720.3,787.0 722.8,786.2 722.2,788.8" fill="#1a1a1a" stroke="#1a1a1a" stroke-width="0.6"/>
<polygon points="700.4,737.8 698.5,735.9 701.1,735.2" fill="#1a1a1a" stroke="#1a1a1a" stroke-width="0.6"/>
</g>
<path d="M654.3,735.3 C656.5,742 655,750 651.5,758 C648,766 646.5,773 648.5,779 C650,784 653.5,787.5 657.3,790.3" stroke-width="1.0" />
<clipPath id="cl22"><path d="M883.9,735.3 L879,741.5 Q874,749 873.7,754 Q873.8,759 877,764 L881.5,770.5 Q884,775 883,778 Q881.5,782 877,786.5 L873.8,790.3 L819.5,790.3 L819.5,735.3 Z"/></clipPath>
<g clip-path="url(#cl22)" stroke="none">
<circle cx="883.2" cy="743.7" r="0.35" fill="#bbb"/>
<circle cx="885.9" cy="746.1" r="0.35" fill="#ccc"/>
<circle cx="862.6" cy="754.6" r="0.35" fill="#777"/>
<circle cx="837.0" cy="738.9" r="0.55" fill="#777"/>
<circle cx="881.4" cy="772.6" r="0.5" fill="#ccc"/>
<circle cx="878.2" cy="766.9" r="0.35" fill="#bbb"/>
<circle cx="836.7" cy="758.6" r="0.4" fill="#555"/>
<circle cx="858.0" cy="786.0" r="0.55" fill="#555"/>
<circle cx="865.8" cy="768.8" r="0.45" fill="#777"/>
<circle cx="883.1" cy="752.9" r="0.55" fill="#777"/>
<circle cx="837.7" cy="750.6" r="0.4" fill="#aaa"/>
<circle cx="822.3" cy="764.5" r="0.35" fill="#aaa"/>
<circle cx="881.0" cy="763.1" r="0.55" fill="#aaa"/>
<circle cx="845.6" cy="785.3" r="0.4" fill="#999"/>
<circle cx="856.7" cy="757.4" r="0.35" fill="#999"/>
<circle cx="857.6" cy="766.0" r="0.55" fill="#aaa"/>
<circle cx="869.8" cy="784.0" r="0.5" fill="#555"/>
<circle cx="825.1" cy="759.8" r="0.35" fill="#aaa"/>
<circle cx="871.3" cy="739.4" r="0.4" fill="#bbb"/>
<circle cx="835.0" cy="736.7" r="0.5" fill="#777"/>
<circle cx="830.5" cy="765.3" r="0.45" fill="#777"/>
<circle cx="841.0" cy="755.2" r="0.4" fill="#aaa"/>
<circle cx="821.5" cy="764.7" r="0.4" fill="#ccc"/>
<circle cx="865.5" cy="739.1" r="0.5" fill="#555"/>
<circle cx="874.5" cy="785.1" r="0.5" fill="#555"/>
<circle cx="875.7" cy="762.7" r="0.55" fill="#777"/>
<circle cx="858.2" cy="788.8" r="0.5" fill="#aaa"/>
<circle cx="867.7" cy="770.4" r="0.45" fill="#555"/>
<circle cx="873.9" cy="768.5" r="0.35" fill="#555"/>
<circle cx="831.5" cy="754.9" r="0.35" fill="#999"/>
<circle cx="825.5" cy="769.6" r="0.55" fill="#aaa"/>
<circle cx="865.9" cy="745.7" r="0.35" fill="#777"/>
<circle cx="842.6" cy="742.6" r="0.4" fill="#bbb"/>
<circle cx="836.1" cy="782.2" r="0.4" fill="#555"/>
<circle cx="837.5" cy="741.5" r="0.5" fill="#bbb"/>
<circle cx="832.9" cy="754.5" r="0.55" fill="#777"/>
<circle cx="821.6" cy="756.3" r="0.55" fill="#555"/>
<circle cx="832.7" cy="776.2" r="0.5" fill="#555"/>
<circle cx="869.3" cy="774.4" r="0.5" fill="#999"/>
<circle cx="835.7" cy="748.5" r="0.45" fill="#555"/>
<circle cx="881.4" cy="766.3" r="0.4" fill="#ccc"/>
<circle cx="840.4" cy="737.9" r="0.4" fill="#bbb"/>
<circle cx="837.8" cy="781.2" r="0.35" fill="#999"/>
<circle cx="870.3" cy="736.5" r="0.5" fill="#ccc"/>
<circle cx="834.6" cy="764.6" r="0.4" fill="#999"/>
<circle cx="841.9" cy="782.1" r="0.35" fill="#ccc"/>
<circle cx="844.5" cy="770.2" r="0.4" fill="#bbb"/>
<circle cx="855.9" cy="755.5" r="0.55" fill="#999"/>
<circle cx="831.6" cy="751.0" r="0.4" fill="#999"/>
<circle cx="875.2" cy="763.3" r="0.5" fill="#777"/>
<circle cx="884.2" cy="746.4" r="0.5" fill="#999"/>
<circle cx="877.6" cy="776.7" r="0.5" fill="#ccc"/>
<circle cx="862.9" cy="746.6" r="0.4" fill="#555"/>
<circle cx="822.4" cy="756.4" r="0.4" fill="#555"/>
<circle cx="853.7" cy="787.7" r="0.4" fill="#777"/>
<circle cx="856.4" cy="782.1" r="0.55" fill="#555"/>
<circle cx="854.3" cy="777.0" r="0.35" fill="#555"/>
<circle cx="882.6" cy="772.7" r="0.35" fill="#555"/>
<circle cx="857.2" cy="785.1" r="0.45" fill="#bbb"/>
<circle cx="839.3" cy="752.9" r="0.5" fill="#bbb"/>
<circle cx="860.7" cy="775.5" r="0.45" fill="#999"/>
<circle cx="884.0" cy="786.2" r="0.35" fill="#777"/>
<circle cx="872.7" cy="770.9" r="0.45" fill="#ccc"/>
<circle cx="837.9" cy="748.9" r="0.35" fill="#555"/>
<circle cx="881.0" cy="752.1" r="0.35" fill="#999"/>
<circle cx="826.6" cy="784.4" r="0.45" fill="#777"/>
<circle cx="829.7" cy="751.4" r="0.5" fill="#999"/>
<circle cx="828.4" cy="757.7" r="0.4" fill="#bbb"/>
<circle cx="834.2" cy="769.2" r="0.45" fill="#555"/>
<circle cx="850.1" cy="751.1" r="0.55" fill="#777"/>
<circle cx="825.2" cy="779.9" r="0.45" fill="#bbb"/>
<circle cx="828.3" cy="738.9" r="0.4" fill="#777"/>
<circle cx="826.6" cy="761.8" r="0.4" fill="#bbb"/>
<circle cx="844.2" cy="772.1" r="0.4" fill="#aaa"/>
<circle cx="827.9" cy="771.7" r="0.5" fill="#aaa"/>
<circle cx="861.3" cy="738.9" r="0.5" fill="#ccc"/>
<circle cx="848.5" cy="747.4" r="0.35" fill="#555"/>
<circle cx="826.7" cy="781.0" r="0.35" fill="#777"/>
<circle cx="856.7" cy="778.2" r="0.45" fill="#ccc"/>
<circle cx="827.4" cy="776.7" r="0.4" fill="#bbb"/>
<circle cx="871.8" cy="764.8" r="0.55" fill="#ccc"/>
<circle cx="832.3" cy="778.3" r="0.5" fill="#aaa"/>
<circle cx="856.3" cy="745.6" r="0.5" fill="#ccc"/>
<circle cx="880.5" cy="765.8" r="0.5" fill="#999"/>
<circle cx="871.1" cy="747.3" r="0.4" fill="#777"/>
<circle cx="862.1" cy="750.6" r="0.45" fill="#bbb"/>
<circle cx="822.1" cy="785.4" r="0.55" fill="#bbb"/>
<polygon points="827.6,748.3 829.1,746.8 829.7,748.9" fill="none" stroke="#1a1a1a" stroke-width="0.6"/>
<polygon points="841.5,744.8 839.4,746.4 839.1,743.8" fill="#1a1a1a" stroke="#1a1a1a" stroke-width="0.6"/>
<polygon points="853.8,743.3 854.9,745.1 852.7,745.1" fill="#1a1a1a" stroke="#1a1a1a" stroke-width="0.6"/>
<polygon points="864.1,748.4 864.6,746.2 866.3,747.8" fill="#1a1a1a" stroke="#1a1a1a" stroke-width="0.6"/>
<polygon points="824.8,757.5 822.3,756.6 824.3,754.9" fill="#1a1a1a" stroke="#1a1a1a" stroke-width="0.6"/>
<polygon points="864.9,753.8 867.0,752.6 867.0,755.0" fill="none" stroke="#1a1a1a" stroke-width="0.6"/>
<polygon points="846.6,772.7 844.2,772.3 845.7,770.4" fill="#1a1a1a" stroke="#1a1a1a" stroke-width="0.6"/>
<polygon points="868.5,773.7 870.8,772.6 870.7,775.1" fill="#1a1a1a" stroke="#1a1a1a" stroke-width="0.6"/>
<polygon points="865.1,785.9 866.1,783.5 867.7,785.6" fill="#1a1a1a" stroke="#1a1a1a" stroke-width="0.6"/>
<polygon points="832.6,787.5 834.4,786.4 834.4,788.6" fill="#1a1a1a" stroke="#1a1a1a" stroke-width="0.6"/>
</g>
<path d="M883.9,735.3 L879,741.5 Q874,749 873.7,754 Q873.8,759 877,764 L881.5,770.5 Q884,775 883,778 Q881.5,782 877,786.5 L873.8,790.3" stroke-width="1.0" />
<path d="M657.30,790.30L873.80,790.30" stroke-width="1.0" />
<path d="M723.50,735.30L723.50,790.30" stroke-width="1.0" />
<path d="M819.50,735.30L819.50,790.30" stroke-width="1.0" />
<path d="M725.90,735.30L725.90,790.30" stroke-width="1.0" />
<path d="M728.60,735.30L728.60,790.30" stroke-width="1.0" />
<path d="M747.70,735.30L747.70,790.30" stroke-width="1.0" />
<path d="M749.90,735.30L749.90,790.30" stroke-width="1.0" />
<path d="M756.3,735.3 L756.3,746.7 M787,735.3 L787,746.7" stroke-width="1.0" />
<path d="M756.3,746.7 Q754.2,749 756.3,751.3 L787,751.3 Q789.2,749 787,746.7 Z" stroke-width="1.0" />
<path d="M756.70,751.30L756.70,772.70" stroke-width="1.0" />
<path d="M786.30,751.30L786.30,772.70" stroke-width="1.0" />
<path d="M756.70,772.70L786.30,772.70" stroke-width="1.0" />
<path d="M756.7,772.7 Q754.6,773.5 754.6,776.7 L754.6,790.3 M786.3,772.7 Q788.7,773.5 788.7,776.7 L788.7,790.3" stroke-width="1.0" />
<path d="M754.60,776.70L788.70,776.70" stroke-width="1.0" />
<path d="M755.60,790.30L755.60,912.50" stroke-width="1.0" />
<path d="M787.90,790.30L787.90,912.50" stroke-width="1.0" />
<path d="M703.3,790.3 L703.3,798.9 Q703.3,800.4 704.8,800.4 L812.5,800.4 Q814,800.4 814,798.9 L814,790.3" stroke-width="1.0" />
<path d="M703.30,794.80L814.00,794.80" stroke-width="1.0" />
<path d="M808.00,790.30L808.00,800.40" stroke-width="1.0" />
<path d="M722.2,802.5 L722.2,826.5 Q722.2,828.5 724,828.5 L751.7,828.5 Q753.5,828.5 753.5,826.5 L753.5,802.5" stroke-width="1.0" />
<path d="M722.2,803.8 Q730,798.5 737.8,803.8 Q745.6,798.5 753.5,803.8" stroke-width="1.0" />
<path d="M722.2,824.8 Q730,830 737.8,824.8 Q745.6,830 753.5,824.8" stroke-width="1.0" />
<path d="M737.80,803.80L737.80,824.80" stroke-width="1.0" />
<path d="M726.3,828.5 L726.3,866.8 L729.6,870.4 L736.2,870.4 L736.2,860 Q736.2,858.7 738,858.7 Q739.8,858.7 739.8,860 L739.8,870.4 L746.4,870.4 L749.8,866.8 L749.8,828.5" stroke-width="1.0" />
<path d="M729.00,828.50L729.00,866.90" stroke-width="1.0" />
<path d="M747.50,828.50L747.50,866.90" stroke-width="1.0" />
<path d="M726.30,866.90L736.20,866.90" stroke-width="1.0" />
<path d="M739.80,866.90L749.80,866.90" stroke-width="1.0" />
<path d="M735.60,912.50L811.30,912.50" stroke-width="1.0" stroke-dasharray="29.4 5.6 5.7 5" stroke-linecap="butt"/>
<path d="M738.10,927.30L811.30,927.30" stroke-width="1.0" stroke-dasharray="28.2 5.6 5.9 4.7" stroke-linecap="butt"/>
<path d="M755.60,927.30L755.60,1036.50" stroke-width="1.0" />
<path d="M787.90,927.30L787.90,1036.50" stroke-width="1.0" />
<path d="M754.4,1037.5 Q754.4,1036.5 755.4,1036.5 L788.4,1036.5 Q789.4,1036.5 789.4,1037.5 L789.4,1049.3 L754.4,1049.3 Z" stroke-width="1.0" />
<path d="M754.4,1049.3 L756.4,1053 L756.4,1080.8" stroke-width="1.0" />
<path d="M789.4,1049.3 L788,1053 L788,1080.8" stroke-width="1.0" />
<path d="M756.40,1055.60L788.00,1055.60" stroke-width="1.0" />
<path d="M756.40,1080.80L788.00,1080.80" stroke-width="1.0" />
<path d="M756.4,1080.8 Q752.8,1082.2 752.8,1086 Q752.8,1089.5 756,1090.8" stroke-width="1.0" />
<path d="M788,1080.8 Q791.6,1082.2 791.6,1086 Q791.6,1089.5 788.4,1090.8" stroke-width="1.0" />
<path d="M739,1092.2 L739,1120 M804.2,1092.2 L804.2,1120" stroke-width="1.0" />
<path d="M739,1092.2 Q745,1088 753,1086.6 M804.2,1092.2 Q798,1088 791.4,1086.6" stroke-width="1.0" />
<path d="M739,1092.2 Q747,1090 755.5,1091.8 Q771.6,1089.6 787.7,1091.8 Q796,1090 804.2,1092.2" stroke-width="1.0" />
<path d="M739,1120 Q747,1122 755.5,1120.4 Q771.6,1122.4 787.7,1120.4 Q796,1122 804.2,1120" stroke-width="1.0" />
<path d="M755.50,1091.80L755.50,1126.50" stroke-width="1.3" />
<path d="M787.70,1091.80L787.70,1126.50" stroke-width="1.3" />
<path d="M739,1120 C745,1124.5 757,1129.6 771.6,1129.6 C786,1129.6 798,1124.5 804.2,1120" stroke-width="1.0" />
</svg></body></html>
